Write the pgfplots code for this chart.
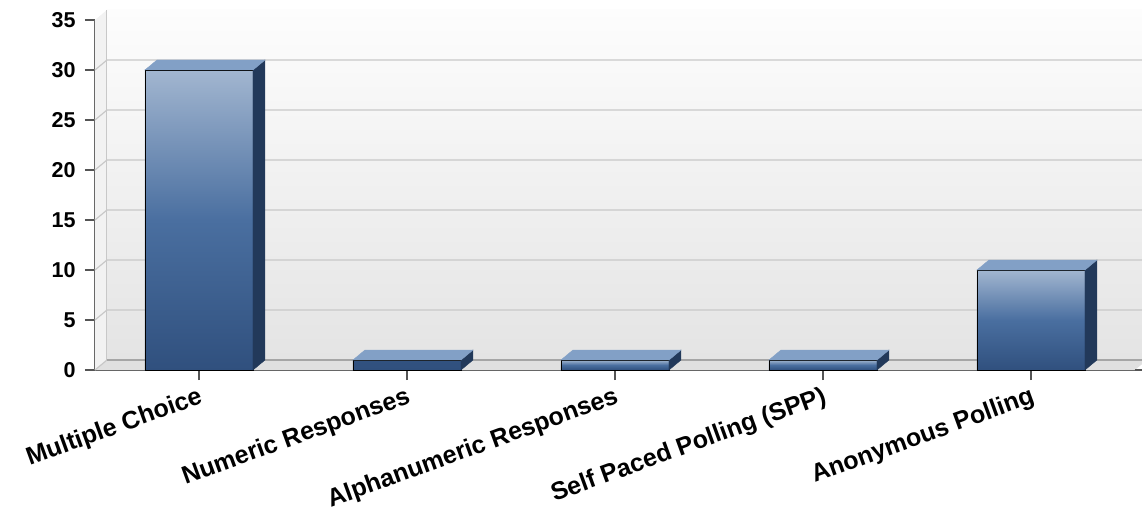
\documentclass[border=0pt]{standalone}
\usepackage{fontspec}
\setmainfont{Liberation Sans}
\usepackage{pgfplots}
\pgfplotsset{compat=1.18}

\definecolor{barTop}{HTML}{A2B6D0}
\definecolor{barMid}{HTML}{4A6FA0}
\definecolor{barBot}{HTML}{30507E}
\definecolor{barCap}{HTML}{82A0C6}
\definecolor{barSide}{HTML}{22395A}
\definecolor{wallTop}{HTML}{FDFDFD}
\definecolor{wallBot}{HTML}{E4E4E4}
\definecolor{wallSide}{HTML}{F2F2F2}
\definecolor{floorCol}{HTML}{E0E0E0}
\definecolor{gridCol}{HTML}{C8C8C8}
\definecolor{axisCol}{HTML}{555555}

% depth of the 3D effect
\newcommand\dx{12pt}
\newcommand\dy{10pt}

\begin{document}
\begin{tikzpicture}
\begin{axis}[
  scale only axis,
  width=1040pt, height=350pt,
  xmin=-0.5, xmax=4.5,
  ymin=0, ymax=35,
  ytick={0,5,...,35},
  xtick={0,...,4},
  xticklabels={Multiple Choice, Numeric Responses, Alphanumeric Responses, Self Paced Polling (SPP), Anonymous Polling},
  axis lines*=left,
  axis line style={axisCol, line width=1.6pt},
  tick style={axisCol, line width=1.2pt},
  tick align=outside,
  major tick length=10pt,
  /pgf/number format/assume math mode=true,
  y tick label style={font=\bfseries\fontsize{21.5}{24}\selectfont, xshift=-6pt},
  x tick label style={rotate=20, anchor=north east, yshift=-1pt, font=\bfseries\fontsize{25}{28}\selectfont},
  clip=false,
]
% back wall, side wall and floor
\shade[top color=wallTop, bottom color=wallBot]
  ([shift={(\dx,\dy)}]axis cs:-0.5,0) rectangle ([shift={(\dx,\dy)}]axis cs:4.5,35);
\fill[wallSide] (axis cs:-0.5,0) -- ([shift={(\dx,\dy)}]axis cs:-0.5,0)
  -- ([shift={(\dx,\dy)}]axis cs:-0.5,35) -- (axis cs:-0.5,35) -- cycle;
\fill[floorCol] (axis cs:-0.5,0) -- (axis cs:4.5,0)
  -- ([shift={(\dx,\dy)}]axis cs:4.5,0) -- ([shift={(\dx,\dy)}]axis cs:-0.5,0) -- cycle;
\draw[gridCol, line width=1pt] ([shift={(\dx,\dy)}]axis cs:-0.5,0) -- ([shift={(\dx,\dy)}]axis cs:-0.5,35);
\pgfplotsinvokeforeach{0,5,...,30}{
  \draw[gridCol, line width=1.2pt] (axis cs:-0.5,#1) -- ([shift={(\dx,\dy)}]axis cs:-0.5,#1)
    -- ([shift={(\dx,\dy)}]axis cs:4.5,#1);
}
\draw[gray!70, line width=1.2pt] ([shift={(\dx,\dy)}]axis cs:-0.5,0) -- ([shift={(\dx,\dy)}]axis cs:4.5,0);

% 3D bars: front, top and side faces drawn at each data point
\addplot[only marks, scatter, mark=text, text mark={},
  visualization depends on={rawy \as \val},
  scatter/@pre marker code/.code={
    \pgfmathsetmacro\h{\val*10}
    \shade[top color=barTop, bottom color=barBot, middle color=barMid]
      (-54pt,-\h pt) rectangle (54pt,0pt);
    \fill[barSide] (54pt,0pt) -- ++(\dx,\dy) -- ++(0pt,-\h pt) -- (54pt,-\h pt) -- cycle;
    \fill[barCap] (-54pt,0pt) -- ++(\dx,\dy) -- (54pt+\dx,\dy) -- (54pt,0pt) -- cycle;
  },
  scatter/@post marker code/.code={}]
  coordinates {(0,30) (1,1) (2,1) (3,1) (4,10)};

\draw[axisCol, line width=1.6pt] (axis cs:4.5,0) -- ++(12pt,0pt);
\end{axis}
\pgfresetboundingbox
\path[use as bounding box] ([xshift=-95pt,yshift=-144pt]current axis.south west) rectangle ++(1142pt,514pt);
\end{tikzpicture}
\end{document}
